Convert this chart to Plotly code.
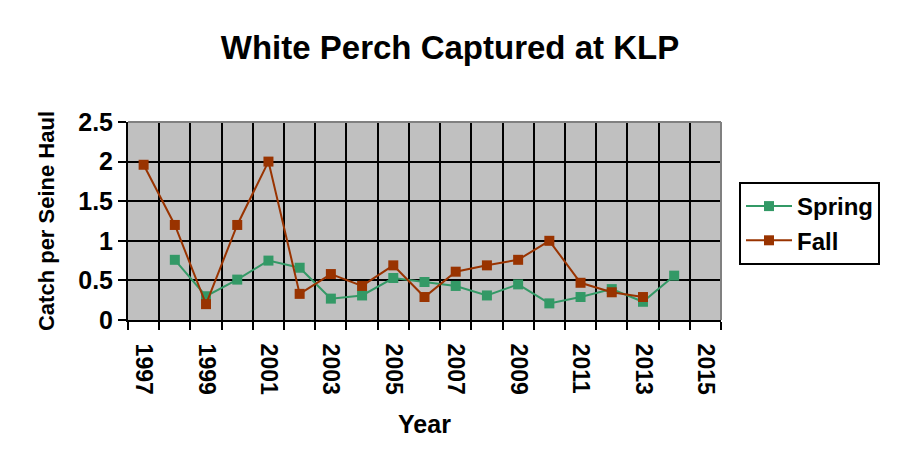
import plotly.graph_objects as go

spring_years = list(range(1998, 2015))
spring = [0.76, 0.30, 0.51, 0.75, 0.66, 0.27, 0.31, 0.53, 0.48, 0.43, 0.31, 0.45, 0.21, 0.29, 0.39, 0.23, 0.56]
fall_years = list(range(1997, 2014))
fall = [1.96, 1.20, 0.20, 1.20, 2.00, 0.33, 0.58, 0.43, 0.69, 0.29, 0.61, 0.69, 0.76, 1.00, 0.47, 0.35, 0.29]
label_years = list(range(1997, 2016, 2))
label_text = [str(y) for y in label_years]

FONT = "Liberation Sans, Arial, sans-serif"

fig = go.Figure()
fig.add_trace(go.Scatter(
    x=spring_years, y=spring, name="Spring", mode="lines+markers",
    line=dict(color="#339966", width=2),
    marker=dict(symbol="square", size=10, color="#339966"),
))
fig.add_trace(go.Scatter(
    x=fall_years, y=fall, name="Fall", mode="lines+markers",
    line=dict(color="#993300", width=2),
    marker=dict(symbol="square", size=10, color="#993300"),
))

fig.update_layout(
    width=900, height=473,
    margin=dict(l=128, r=179, t=122, b=153, autoexpand=False),
    paper_bgcolor="white",
    plot_bgcolor="#C0C0C0",
    font=dict(family=FONT, color="black"),
    title=dict(text="White Perch Captured at KLP", x=0.5, xanchor="center",
               y=1 - 47 / 473, yanchor="middle",
               font=dict(size=33, weight="bold", family=FONT)),
    showlegend=True,
    legend=dict(x=(739 - 128) / 593, xanchor="left", y=(320 - 182) / 198, yanchor="top",
                bgcolor="white", bordercolor="black", borderwidth=2,
                font=dict(size=24, weight="bold", family=FONT),
                itemwidth=46, tracegroupgap=4),
    xaxis=dict(
        range=[1996.5, 2015.5],
        tickmode="array", tickvals=label_years, ticktext=label_text,
        tickangle=90, ticks="", showgrid=False, zeroline=False,
        tickfont=dict(size=23, weight="bold", family=FONT),
        showline=True, linecolor="black", linewidth=2,
        ticklabelstandoff=17,
        minor=dict(tick0=1996.5, dtick=1, ticks="outside", ticklen=8, tickwidth=2,
                   tickcolor="black", showgrid=True, gridcolor="black", gridwidth=2),
        title=dict(text="Year", font=dict(size=25, weight="bold", family=FONT), standoff=22),
    ),
    yaxis=dict(
        range=[0, 2.5], tick0=0, dtick=0.5,
        ticks="outside", ticklen=8, tickwidth=2, tickcolor="black",
        showgrid=True, gridcolor="black", gridwidth=2, zeroline=False,
        showline=True, linecolor="black", linewidth=2,
        tickfont=dict(size=25, weight="bold", family=FONT),
        title=dict(text="Catch per Seine Haul", font=dict(size=22, weight="bold", family=FONT), standoff=18),
    ),
    shapes=[
        dict(type="line", xref="paper", yref="paper", x0=0, x1=1, y0=1, y1=1,
             line=dict(color="#808080", width=2), layer="above"),
        dict(type="line", xref="paper", yref="paper", x0=1, x1=1, y0=0, y1=1,
             line=dict(color="#808080", width=2), layer="above"),
    ],
)

fig.write_html("out.html", config={"displayModeBar": False},
               post_script="document.body.style.margin='0';")
